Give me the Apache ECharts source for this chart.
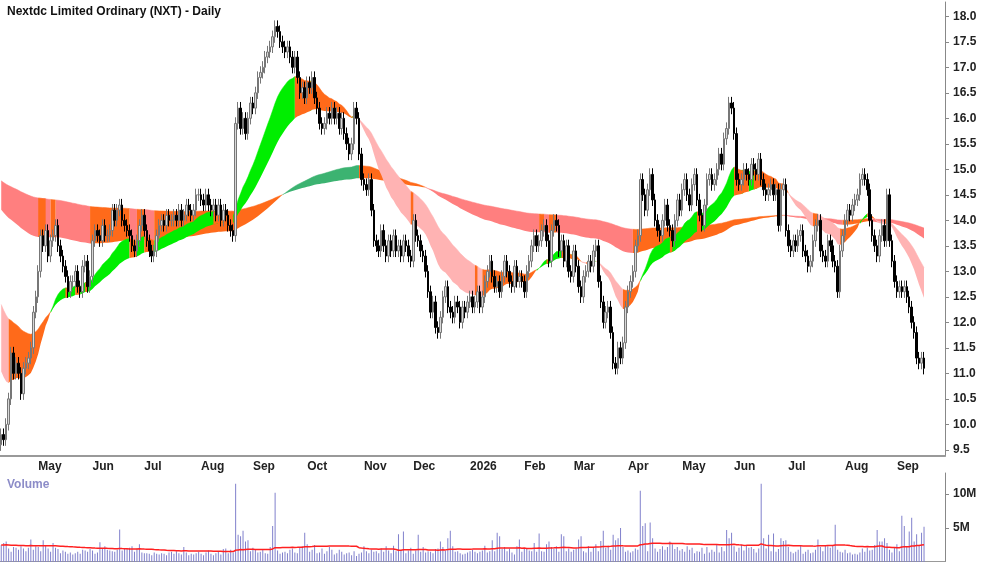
<!DOCTYPE html>
<html>
<head>
<meta charset="utf-8">
<script src="https://cdn.jsdelivr.net/npm/echarts@6/dist/echarts.min.js"></script>
<style>html,body{margin:0;padding:0;background:#fff}#main{width:1000px;height:562px}</style>
</head>
<body>
<div id="main"></div>
<script>
// closes before the first visible day (only used to warm up the averages)
const warmCloses = [15.4,15.6,15.5,15.8,15.7,15.9,16.0,15.8,15.6,15.9,16.1,16.0,15.7,15.8,15.9,16.1,16.2,16.0,15.9,16.1,
  15.8,15.9,16.1,16.0,15.8,15.9,16.2,16.0,15.7,15.9,16.0,15.8,15.6,15.7,15.5,15.6,15.4,15.3,15.5,15.2,
  15.0,15.1,14.8,14.9,14.6,14.4,14.5,14.2,14.0,14.1,13.8,13.6,13.7,13.4,13.2,13.3,
  14.0,13.9,13.8,13.9,13.6,13.7,13.5,13.4,13.2,13.0,12.6,12.0,11.4,10.8,10.5,10.2,10.0,9.8,9.9,9.6,9.8,9.5,9.7,9.6];
const warmVolumes = [2.4,2.6,2.2,2.8,2.5,2.3,2.7,2.4,2.2,2.6,2.5,2.9,2.3,2.4,2.6,2.2,2.5,2.7,2.4,2.3,
  2.6,2.8,2.5,2.4,2.2,2.6,2.7,2.5,2.3,2.8];

// daily closes by month, Apr 2025 .. Sep 2026
const closes = [
  9.8,9.7,10.0,10.5,11.4,11.0,11.2,11.0,10.6,11.1,11.2,11.3,11.5,12.2,12.5,
  13.0,13.7,13.5,13.8,13.3,13.6,13.7,13.9,13.5,13.3,13.1,12.9,12.6,12.8,12.8,13.0,12.7,12.6,13.1,13.2,12.7,12.9,
  13.6,13.8,13.7,13.6,13.9,13.7,13.7,13.8,14.2,14.0,14.2,14.3,14.0,13.9,13.8,13.7,13.5,13.4,13.6,13.9,14.1,
  13.8,13.6,13.4,13.3,13.4,13.7,13.9,14.0,13.9,14.1,14.0,14.0,14.1,14.0,14.2,14.0,14.1,14.3,14.2,14.1,14.2,14.5,14.5,
  14.4,14.3,14.5,14.3,14.2,14.3,14.1,14.3,14.0,14.2,14.1,13.9,13.8,13.7,15.9,16.2,15.8,16.0,15.7,16.0,16.3,
  16.2,16.5,16.8,16.9,17.0,17.2,17.3,17.4,17.6,17.8,17.7,17.5,17.4,17.3,17.4,17.2,17.0,17.2,16.8,16.5,16.6,16.4,
  16.7,16.6,16.8,16.4,16.2,15.9,15.8,15.9,16.1,16.0,16.2,16.0,16.1,15.8,16.0,15.7,15.5,15.3,15.5,16.2,16.0,15.3,14.8,
  14.7,14.6,14.8,14.2,13.6,13.5,13.4,13.8,13.5,13.3,13.6,13.4,13.7,13.4,13.5,13.3,13.6,13.5,13.3,13.2,
  14.0,13.7,13.6,13.4,13.3,13.0,12.6,12.2,12.4,11.9,11.8,12.1,12.5,12.7,12.3,12.2,12.1,12.4,12.3,12.0,12.3,12.2,12.4,
  12.5,12.3,12.4,12.6,12.3,12.5,12.8,13.0,13.2,12.9,12.7,12.8,12.6,12.9,13.2,13.0,12.8,12.7,13.1,12.8,12.9,12.8,
  12.6,13.0,13.2,13.5,13.7,13.5,13.6,13.8,13.9,13.6,13.2,13.8,14.0,13.9,13.4,13.6,13.2,13.5,13.0,12.9,
  13.4,13.1,12.7,12.5,12.9,13.0,13.2,13.1,13.4,13.5,12.8,12.4,12.0,12.2,12.3,11.8,11.2,11.1,11.5,11.3,11.6,12.3,
  12.6,12.8,13.0,13.5,13.7,14.8,14.5,14.2,14.6,14.9,14.4,14.0,13.8,13.7,14.0,14.3,13.9,13.8,13.6,14.0,14.4,14.2,
  14.6,14.8,14.5,14.3,14.7,14.9,14.4,14.1,13.9,14.3,14.8,14.9,14.7,14.8,15.0,15.3,15.1,15.6,15.8,16.3,16.2,
  15.7,14.8,14.7,14.8,15.0,14.9,14.8,15.1,15.0,14.9,15.2,14.8,14.6,14.5,14.6,14.7,14.5,14.6,13.9,14.6,14.7,13.8,
  13.5,13.4,13.6,13.5,13.7,13.8,13.4,13.3,13.1,13.2,13.6,13.9,14.0,13.4,13.3,13.2,13.6,13.5,13.2,13.1,12.6,13.4,13.7,
  14.0,14.2,14.1,14.3,14.4,14.5,14.8,14.9,14.8,14.6,14.0,13.7,13.5,13.3,13.7,13.9,13.6,14.5,13.6,13.2,12.8,
  12.6,12.7,12.6,12.7,12.5,12.3,12.0,11.8,11.3,11.2,11.3,11.1
];

// daily volume, millions of shares
const volumes = [
  2.5,2.8,3.0,2.0,1.5,2.2,2.1,1.8,2.3,2.0,1.6,2.1,3.3,1.8,2.3,
  2.2,1.6,3.2,2.4,2.0,1.5,2.8,2.1,1.9,1.3,1.7,1.5,1.2,1.4,1.1,1.3,1.5,1.2,1.8,1.7,1.5,1.9,
  1.7,1.2,1.4,2.9,2.0,2.3,1.8,1.7,1.6,1.5,1.8,4.8,1.7,2.0,1.9,2.1,2.3,1.5,2.0,2.6,1.4,
  1.3,1.3,1.2,1.0,1.4,1.2,1.1,1.3,1.2,1.0,1.4,1.5,1.2,1.6,1.3,1.1,2.2,1.4,1.0,1.2,1.1,1.3,1.5,
  1.2,1.0,1.4,1.7,1.2,1.0,1.3,1.5,1.1,1.9,2.0,1.3,1.8,1.4,11.5,4.0,3.8,4.6,3.0,3.2,1.6,
  2.1,1.8,1.4,1.5,1.9,1.3,1.2,2.2,5.3,10.2,1.7,1.2,1.4,1.5,1.3,1.8,2.0,1.4,1.3,2.2,2.3,4.3,
  2.6,1.5,1.8,2.5,1.3,1.4,2.0,1.2,1.6,2.2,1.8,1.1,1.3,1.8,1.5,1.1,1.3,1.4,1.0,1.6,0.9,1.2,1.4,
  2.3,1.6,1.3,1.8,1.5,1.6,1.3,2.0,1.5,2.3,1.7,1.3,2.4,1.6,4.1,1.7,4.5,1.3,1.7,2.1,
  1.2,1.7,4.0,1.5,2.2,1.4,1.6,1.5,1.3,1.9,2.0,3.0,2.2,1.7,3.5,4.6,2.3,1.5,1.6,1.3,1.1,1.2,1.4,
  1.6,1.8,1.5,1.3,1.5,1.7,2.4,1.4,1.6,3.2,1.6,4.3,3.8,1.9,2.2,1.6,2.0,1.4,1.1,2.3,3.3,1.5,
  1.9,2.0,1.7,1.6,2.8,1.5,4.2,1.6,1.5,2.6,3.0,2.2,2.0,2.3,1.5,4.1,3.8,1.6,2.0,1.5,
  1.8,2.0,3.3,3.8,1.6,1.4,2.3,1.5,2.2,2.6,1.6,3.1,4.6,2.1,2.4,1.8,4.0,3.2,3.5,5.0,2.2,1.5,
  1.7,1.4,1.6,2.0,1.8,10.5,5.3,5.7,1.6,5.8,3.5,2.0,1.5,1.9,2.3,1.8,2.2,3.0,2.6,1.9,2.2,1.7,
  1.9,1.5,2.3,1.8,2.1,1.3,1.6,1.5,2.1,1.2,2.2,1.4,1.8,1.5,2.6,1.4,2.2,1.6,4.7,3.5,4.3,
  2.3,1.5,2.1,2.5,1.7,2.4,2.1,2.2,1.9,1.4,2.0,11.5,3.5,2.0,4.0,1.6,4.2,1.5,1.9,3.5,3.1,3.2,
  2.2,1.5,1.3,1.5,1.8,2.5,1.2,1.5,1.8,1.3,1.4,1.8,3.3,2.2,1.6,2.4,2.3,2.1,2.5,5.5,1.8,1.5,1.4,
  1.8,1.3,1.4,1.1,1.2,1.1,1.4,2.0,1.5,2.1,1.7,1.8,2.5,4.7,3.0,3.0,3.5,2.8,1.8,1.4,2.1,
  2.6,1.6,6.8,5.3,2.3,4.5,6.5,3.0,4.1,2.5,4.3,5.2
];

const priceTicks = [9.5,10,10.5,11,11.5,12,12.5,13,13.5,14,14.5,15,15.5,16,16.5,17,17.5,18];
const volTicks = [5,10];
const monthNames = ['Jan','Feb','Mar','Apr','May','Jun','Jul','Aug','Sep','Oct','Nov','Dec'];
const blankDays = 8; // empty room right of the last candle

// trading days from 10 Apr 2025
const dates = [];
let d = new Date(2025, 3, 10);
while (dates.length < closes.length + blankDays) {
  if (d.getDay() !== 0 && d.getDay() !== 6) dates.push(new Date(d));
  d.setDate(d.getDate() + 1);
}
const cats = dates.map(x => x.getFullYear() + '-' + (x.getMonth() + 1) + '-' + x.getDate());
const monthStart = dates.map((x, i) => i > 0 && x.getMonth() !== dates[i - 1].getMonth());

// candles: open at previous close
const allCloses = warmCloses.concat(closes);
const W = warmCloses.length;
const candles = closes.map((c, i) => {
  const o = allCloses[W + i - 1];
  return [o, c, Math.min(o, c) - 0.12, Math.max(o, c) + 0.12];
});

function ema(arr, n) {
  const k = 2 / (n + 1), out = [];
  arr.forEach((v, i) => out.push(i === 0 ? v : v * k + out[i - 1] * (1 - k)));
  return out;
}
function sma(arr, n) {
  return arr.map((v, i) => {
    const s = arr.slice(Math.max(0, i - n + 1), i + 1);
    return s.reduce((a, b) => a + b, 0) / s.length;
  });
}

const eF = ema(allCloses, 22).slice(W), eS = ema(allCloses, 45).slice(W);
const lF = ema(allCloses, 150).slice(W), lS = ema(allCloses, 300).slice(W);
const volMA = sma(warmVolumes.concat(volumes), 50).slice(warmVolumes.length);

// ribbon between a fast and a slow average, split by colour
function ribbon(name, a, b, up, down, z) {
  const col = a.map((v, i) => {
    if (i === 0) return a[0] < b[0] ? down : up;
    const r1 = a[i] > a[i - 1], r2 = b[i] > b[i - 1];
    if (a[i] >= b[i] && r1 && r2) return up;
    if (a[i] < b[i] && !r1 && !r2) return down;
    return '#ff6a1a';
  });
  const out = [];
  [up, down, '#ff6a1a'].forEach((c, ci) => {
    const keep = i => col[i] === c || col[i + 1] === c;
    const base = a.map((v, i) => keep(i) ? Math.min(a[i], b[i]) : '-');
    const diff = a.map((v, i) => keep(i) ? Math.abs(a[i] - b[i]) : '-');
    const stack = name + ci;
    out.push({type: 'line', stack: stack, data: base, symbol: 'none', lineStyle: {opacity: 0}, z: z, silent: true});
    out.push({type: 'line', stack: stack, data: diff, symbol: 'none', lineStyle: {width: 0.5, color: c},
      areaStyle: {color: c, opacity: 1}, z: z, silent: true});
  });
  return out;
}

const myChart = echarts.init(document.getElementById('main'));
const option = {
  backgroundColor: '#fff',
  animation: false,
  title: [
    {text: 'Nextdc Limited Ordinary (NXT) - Daily', left: 2, top: 1,
      textStyle: {fontSize: 12, fontWeight: 'bold', color: '#111', fontFamily: 'Arial, Liberation Sans'}},
    {text: 'Volume', left: 2, top: 474,
      textStyle: {fontSize: 12, fontWeight: 'bold', color: '#8c8cc8', fontFamily: 'Arial, Liberation Sans'}}
  ],
  grid: [
    {left: 0, right: 55, top: 2, bottom: 106},
    {left: 0, right: 55, top: 473, bottom: 0}
  ],
  xAxis: [
    {type: 'category', data: cats, gridIndex: 0, boundaryGap: true,
      axisLine: {lineStyle: {color: '#999', width: 2}},
      axisTick: {interval: i => monthStart[i], length: 4, lineStyle: {color: '#666'}},
      axisLabel: {interval: i => monthStart[i], align: 'left', margin: 5,
        fontSize: 12, fontWeight: 'bold', color: '#222', fontFamily: 'Arial, Liberation Sans',
        formatter: (v, i) => dates[i].getMonth() === 0 ? String(dates[i].getFullYear()) : monthNames[dates[i].getMonth()]},
      splitLine: {show: false}},
    {type: 'category', data: cats, gridIndex: 1, boundaryGap: true, position: 'top',
      axisLine: {lineStyle: {color: '#999', width: 2}}, axisTick: {show: false}, axisLabel: {show: false}}
  ],
  yAxis: [
    {type: 'value', gridIndex: 0, position: 'right', min: 9.38, max: 18.28, scale: true,
      axisLine: {show: true, lineStyle: {color: '#888'}},
      axisTick: {show: true, customValues: priceTicks, length: 4, lineStyle: {color: '#888'}},
      axisLabel: {customValues: priceTicks, margin: 8, fontSize: 12, fontWeight: 'bold', color: '#222',
        fontFamily: 'Arial, Liberation Sans', formatter: v => v.toFixed(1)},
      splitLine: {show: false}},
    {type: 'value', gridIndex: 1, position: 'right', min: 0, max: 13.1,
      axisLine: {show: true, lineStyle: {color: '#888'}},
      axisTick: {show: true, customValues: volTicks, length: 4, lineStyle: {color: '#888'}},
      axisLabel: {customValues: volTicks, margin: 8, fontSize: 12, fontWeight: 'bold', color: '#222',
        fontFamily: 'Arial, Liberation Sans', formatter: v => v + 'M'},
      splitLine: {show: false}}
  ],
  series: [].concat(
    ribbon('long', lF, lS, '#3cb371', '#ff7f7f', 1),
    ribbon('short', eF, eS, '#00ee00', '#ffb3b3', 2),
    [
      {type: 'candlestick', data: candles, barWidth: 2, z: 5,
        itemStyle: {color: '#d8d8d8', color0: '#000', borderColor: '#777', borderColor0: '#000', borderWidth: 1}},
      {type: 'bar', xAxisIndex: 1, yAxisIndex: 1, data: volumes, barWidth: 1, itemStyle: {color: '#8080cc'}},
      {type: 'line', xAxisIndex: 1, yAxisIndex: 1, data: volMA, symbol: 'none', lineStyle: {color: '#ff2020', width: 1.5}, z: 5}
    ]
  )
};
myChart.setOption(option);
</script>
</body>
</html>
